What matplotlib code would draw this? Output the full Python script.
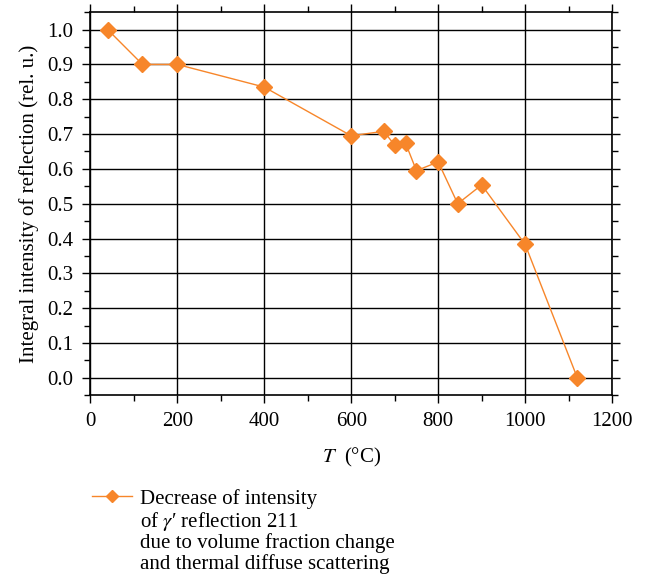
import numpy as np
import matplotlib.pyplot as plt
from matplotlib.ticker import MultipleLocator

# data
temperature = [40, 120, 200, 400, 600, 675, 700, 725, 750, 800, 845, 900, 1000, 1120]
intensity = [1.0, 0.90, 0.90, 0.835, 0.695, 0.708, 0.668, 0.674, 0.595, 0.62, 0.50, 0.554, 0.383, 0.0]
series_label = ("Decrease of intensity\nof $\\gamma$\u2032 reflection 211\n"
                "due to volume fraction change\nand thermal diffuse scattering")

plt.rcParams['font.family'] = ['Liberation Serif', 'DejaVu Serif']
plt.rcParams['mathtext.fontset'] = 'stix'
plt.rcParams['font.size'] = 15

orange = '#f7862a'

fig = plt.figure(figsize=(6.45, 5.82), dpi=100)
ax = fig.add_axes([0.140, 0.321, 0.809, 0.658])

ax.plot(temperature, intensity, color=orange, linewidth=1.0, marker='D',
        markersize=8, markerfacecolor=orange, markeredgecolor=orange,
        label=series_label, zorder=3)

ax.set_xlim(0, 1200)
ax.set_ylim(-0.05, 1.05)
ax.xaxis.set_major_locator(MultipleLocator(200))
ax.xaxis.set_minor_locator(MultipleLocator(100))
ax.yaxis.set_minor_locator(MultipleLocator(0.05))
ax.set_yticks(np.arange(0, 1.01, 0.1))
ax.set_yticklabels([f'{v:.1f}' for v in np.arange(0, 1.01, 0.1)])

ax.tick_params(which='both', direction='out', top=True, right=True,
               labeltop=False, labelright=False, color='black')
ax.tick_params(which='major', length=6, width=1, pad=6)
ax.tick_params(which='minor', length=4, width=1)
ax.grid(True, which='major', color='black', linewidth=1.0)
for s in ax.spines.values():
    s.set_linewidth(1.2)

ax.set_xlabel('$T$  (°C)', labelpad=11)
ax.set_ylabel('Integral intensity of reflection (rel. u.)', labelpad=6)

leg = ax.legend(loc='upper left', bbox_to_anchor=(0.004, -0.245), frameon=False,
                handlelength=1.9, handletextpad=0.4, borderaxespad=0,
                borderpad=0, labelspacing=0.2, markerscale=0.8)
leg.get_texts()[0].set_linespacing(1.05)
# put the handle level with the first text line
for col in leg._legend_handle_box.get_children():
    for row in col.get_children():
        row.align = 'top'

fig.savefig('out.png', dpi=100)
